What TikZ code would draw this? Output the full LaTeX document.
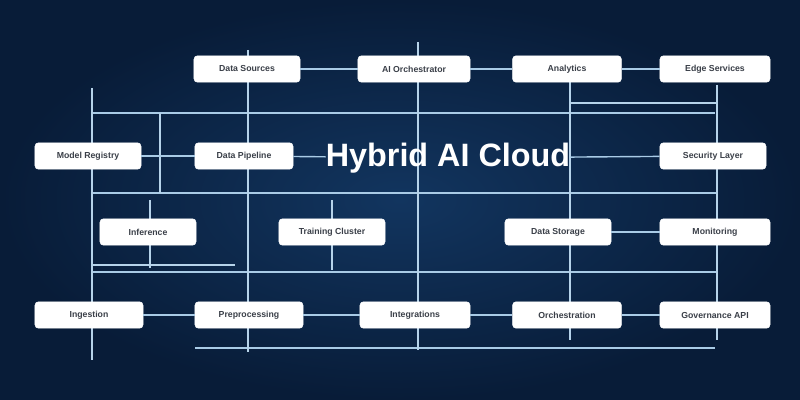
\documentclass[tikz,border=0pt]{standalone}
\usepackage{fontspec}
\setmainfont{Liberation Sans}
\usetikzlibrary{backgrounds}
\definecolor{bgdark}{HTML}{081C38}
\definecolor{bgmid}{HTML}{12355F}
\definecolor{wire}{HTML}{A9CBE6}
\definecolor{boxtext}{HTML}{3A3F48}
\tikzset{
  card/.style={draw=white, fill=white, rounded corners=2.5pt, minimum width=2.65cm, minimum height=0.66cm,
    inner sep=1pt, font=\fontsize{6.2}{7}\selectfont\bfseries, text=boxtext},
  bus/.style={draw=wire, line width=1.2pt},
  thinbus/.style={draw=wire!85, line width=0.8pt},
  link/.style={draw=wire, line width=1pt},
}
\begin{document}
\begin{tikzpicture}[x=0.025cm,y=-0.025cm]
\shade[inner color=bgmid, outer color=bgdark] (0,0) rectangle (800,400);
\useasboundingbox (0,0) rectangle (800,400);

% bus coordinates
\coordinate (h1l) at (92,113); \coordinate (h1r) at (715,113);
\coordinate (h1bl) at (570,103); \coordinate (h1br) at (717,103);
\coordinate (h2l) at (92,193); \coordinate (h2r) at (717,193);
\coordinate (h3l) at (92,272); \coordinate (h3r) at (717,272);
\coordinate (h3bl) at (92,265); \coordinate (h3br) at (235,265);
\coordinate (h4l) at (195,348); \coordinate (h4r) at (715,348);

\coordinate (v1t) at (92,88);  \coordinate (v1b) at (92,360);
\coordinate (v2t) at (160,113); \coordinate (v2b) at (160,193);
\coordinate (v3t) at (150,200); \coordinate (v3b) at (150,268);
\coordinate (v4t) at (248,50); \coordinate (v4b) at (248,352);
\coordinate (v5t) at (332,200); \coordinate (v5b) at (332,270);
\coordinate (v6t) at (418,42); \coordinate (v6b) at (418,350);
\coordinate (v7t) at (570,82); \coordinate (v7b) at (570,340);
\coordinate (v8t) at (717,85); \coordinate (v8b) at (717,340);

\draw[bus] (h1l) -- (h1r);
\draw[thinbus] (h1bl) -- (h1br);
\draw[bus] (h2l) -- (h2r);
\draw[bus] (h3l) -- (h3r);
\draw[thinbus] (h3bl) -- (h3br);
\draw[bus] (h4l) -- (h4r);
\draw[thinbus] (v1t) -- (v1b);
\draw[thinbus] (v2t) -- (v2b);
\draw[thinbus] (v3t) -- (v3b);
\draw[thinbus] (v4t) -- (v4b);
\draw[thinbus] (v5t) -- (v5b);
\draw[thinbus] (v6t) -- (v6b);
\draw[thinbus] (v7t) -- (v7b);
\draw[thinbus] (v8t) -- (v8b);

% row 1
\node[card] (a1) at (247,69) {Data Sources};
\node[card, minimum width=2.8cm] (a2) at (414,69) {AI Orchestrator};
\node[card, minimum width=2.72cm] (a3) at (567,69) {Analytics};
\node[card, minimum width=2.75cm] (a4) at (715,69) {Edge Services};
% row 2
\node[card] (b1) at (88,156) {Model Registry};
\node[card, minimum width=2.45cm] (b2) at (244,156) {Data Pipeline};
\node[font=\fontsize{23}{26}\selectfont\bfseries, text=white, inner sep=0pt] (title) at (448,158) {Hybrid AI Cloud};
\node[card] (b3) at (713,156) {Security Layer};
% row 3
\node[card, minimum width=2.4cm] (c1) at (148,232) {Inference};
\node[card] (c2) at (332,232) {Training Cluster};
\node[card] (c3) at (558,232) {Data Storage};
\node[card, minimum width=2.75cm] (c4) at (715,232) {Monitoring};
% row 4
\node[card, minimum width=2.7cm] (d1) at (89,315) {Ingestion};
\node[card, minimum width=2.7cm] (d2) at (249,315) {Preprocessing};
\node[card, minimum width=2.75cm] (d3) at (415,315) {Integrations};
\node[card, minimum width=2.72cm] (d4) at (567,315) {Orchestration};
\node[card, minimum width=2.75cm] (d5) at (715,315) {Governance API};

% horizontal links
\draw[link] (a1) -- (a2);
\draw[link] (a2) -- (a3);
\draw[link] (a3) -- (a4);
\draw[link] (b1) -- (b2);
\draw[link] (b2) -- (title);
\draw[link] (title) -- (b3);
\draw[link] (c3) -- (c4);
\draw[link] (d1) -- (d2);
\draw[link] (d2) -- (d3);
\draw[link] (d3) -- (d4);
\draw[link] (d4) -- (d5);
\end{tikzpicture}
\end{document}
